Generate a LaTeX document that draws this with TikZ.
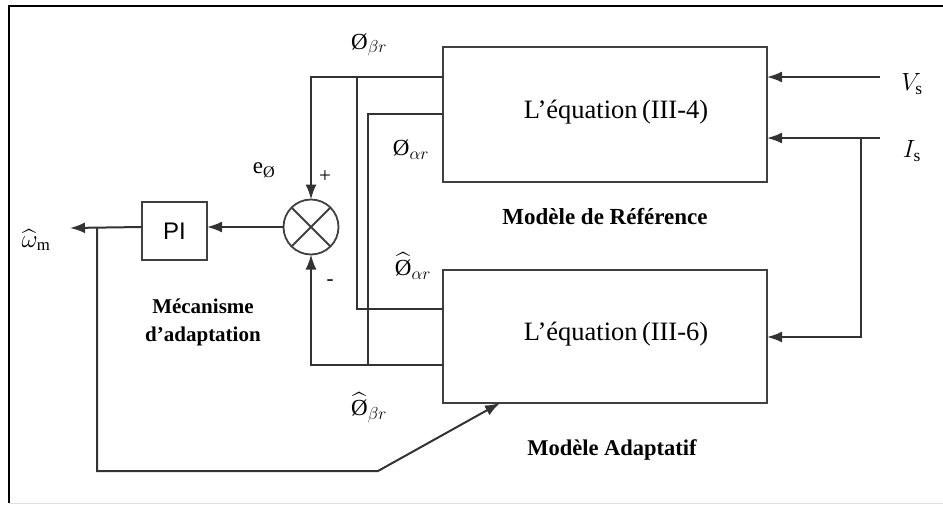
\documentclass[tikz,border=0pt]{standalone}
\usepackage{amsmath}
\usepackage{fontspec}
\setmainfont{Liberation Serif}
\newfontfamily\arialfont{Liberation Sans}
\usetikzlibrary{arrows.meta,calc}
\begin{document}
\begin{tikzpicture}[x=1pt,y=-1pt,
  wire/.style={line width=2pt,draw=black!80},
  arr/.style={wire,-{Latex[length=15pt,width=11pt]}},
  blockbox/.style={draw=black!75,line width=2pt,inner sep=0pt,outer sep=0pt},
  lbl/.style={inner sep=0pt,font=\fontsize{23}{27}\selectfont},
  eqtext/.style={inner sep=0pt,font=\fontsize{26.5}{30}\selectfont},
  title/.style={inner sep=0pt,font=\fontsize{23}{27}\selectfont\bfseries,align=center}]
\useasboundingbox (0,0) rectangle (943,504);
% frame
\draw[line width=2pt,black] (943,6) -- (9,6) -- (9,503);
\draw[line width=1pt,black!12] (9,503) -- (943,503);
% blocks
\node[blockbox,minimum width=324pt,minimum height=135pt] (ref) at (605,114.5) {};
\node[blockbox,minimum width=324pt,minimum height=133pt] (adp) at (605,336.5) {};
\node[eqtext] (eq4) at (616,112) {L’équation\,(III-4)};
\node[eqtext] (eq6) at (616,334) {L’équation\,(III-6)};
\node[title] (tref) at (605,217) {Modèle de Référence};
\node[title,font=\fontsize{22.5}{27}\selectfont\bfseries] (tadp) at (612,450) {Modèle Adaptatif};
\node[title,font=\fontsize{21}{28}\selectfont\bfseries] (tmec) at (203,322) {Mécanisme\\d’adaptation};
\node[draw=black!75,line width=2pt,inner sep=0pt,outer sep=0pt,minimum width=65pt,minimum height=58pt,
   font=\arialfont\fontsize{24}{27}\selectfont] (pi) at (174.5,231) {PI};
\node[draw=black!75,line width=1.8pt,circle,minimum size=55pt,inner sep=0pt,outer sep=0pt] (sum) at (311,227) {};
\draw[line width=1.8pt,draw=black!75] (sum.north east) -- (sum.south west) (sum.north west) -- (sum.south east);
% labels
\node[lbl,font=\fontsize{25}{29}\selectfont] (lVs) at (912,84) {$V_{\mathrm{s}}$};
\node[lbl,font=\fontsize{25}{29}\selectfont] (lIs) at (912,151) {$I_{\mathrm{s}}$};
\node[lbl] (lbr) at (369,45) {Ø$_{\beta r}$};
\node[lbl] (lar) at (411,150) {Ø$_{\alpha r}$};
\node[lbl] (lhar) at (413,266) {$\widehat{\mbox{Ø}}_{\alpha r}$};
\node[lbl] (lhbr) at (369,408) {$\widehat{\mbox{Ø}}_{\beta r}$};
\node[lbl] (le) at (264,170) {e$_{\text{Ø}}$};
\node[lbl,font=\fontsize{21}{24}\selectfont] (lp) at (325,177) {+};
\node[lbl,font=\fontsize{21}{24}\selectfont] (lm) at (330,283) {-};
\node[lbl,font=\fontsize{24}{28}\selectfont] (lw) at (36,240) {$\widehat{\omega}_{\mathrm{m}}$};
% coordinates
\coordinate (vin) at (880,77);
\coordinate (iin) at (880,138);
\coordinate (isplit) at (861,138);
\coordinate (wout) at (70,228);
\coordinate (wsplit) at (97,228);
\coordinate (wcorner) at (378,471);
\coordinate (bsplit) at (357,77);
\coordinate (asplit) at (368,365);
% inputs
\draw[arr] (vin) -- (ref.east |- vin);
\draw[arr] (iin) -- (ref.east |- iin);
\draw[arr] (isplit) |- (adp.east |- 0,337);
% fluxes
\draw[arr] (ref.west |- bsplit) -| (sum.north);
\draw[wire] (bsplit) -- (357,309) -- (adp.west |- 0,309);
\draw[wire] (ref.west |- 0,114) -| (asplit);
\draw[arr] (adp.west |- asplit) -| (sum.south);
% PI chain
\draw[arr] (sum.west) -- (pi.east |- sum.west);
\draw[arr] (pi.west |- sum.west) -- (wout);
\draw[arr] (wsplit) |- (wcorner) -- (adp.south west -| 500,0);
\end{tikzpicture}
\end{document}
